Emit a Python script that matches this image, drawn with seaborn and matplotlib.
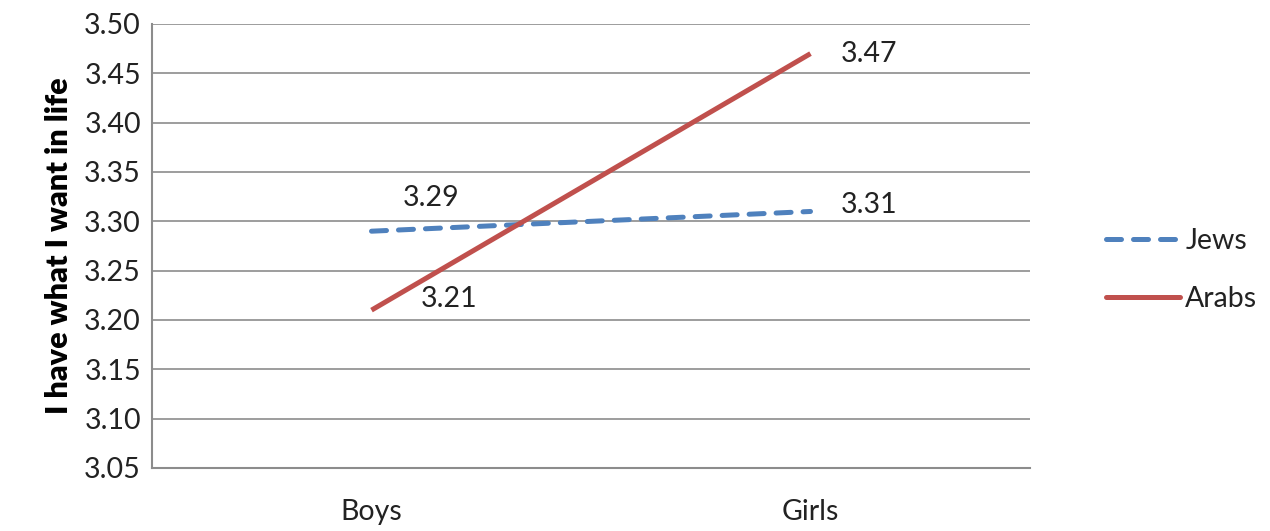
import matplotlib
matplotlib.use("Agg")
import matplotlib.pyplot as plt
import seaborn as sns
import pandas as pd
from matplotlib.lines import Line2D

# Mean agreement with "I have what I want in life" by gender and group
categories = ["Boys", "Girls"]
jews = [3.29, 3.31]
arabs = [3.21, 3.47]
groups = ["Jews", "Arabs"]
y_ticks = [3.05, 3.10, 3.15, 3.20, 3.25, 3.30, 3.35, 3.40, 3.45, 3.50]

df = pd.DataFrame({
    "gender": categories * 2,
    "score": jews + arabs,
    "group": [groups[0]] * 2 + [groups[1]] * 2,
})

sns.set_theme(style="white")
plt.rcParams["font.family"] = ["Lato", "DejaVu Sans"]

fig = plt.figure(figsize=(12.7, 5.31), dpi=100)
ax = fig.add_axes([152 / 1270, 63 / 531, 878 / 1270, 444 / 531])

palette = {"Jews": "#4F81BD", "Arabs": "#C0504D"}
dashes = {"Jews": (3.0, 2.4), "Arabs": ""}
sns.lineplot(data=df, x="gender", y="score", hue="group", style="group",
             palette=palette, dashes=dashes, linewidth=3.6, ax=ax,
             legend=False, sort=False)
for line in ax.lines:
    line.set_dash_capstyle("round")
    line.set_solid_capstyle("butt")

ax.set_xlim(-0.5, 1.5)
ax.set_ylim(3.05, 3.50)
ax.set_yticks(y_ticks)
ax.set_yticklabels([f"{t:.2f}" for t in y_ticks])
ax.tick_params(axis="both", labelsize=20.5, colors="#222222", length=0)
ax.tick_params(axis="y", pad=8)
ax.tick_params(axis="x", pad=22)
ax.yaxis.grid(True, color="#8c8c8c", linewidth=1.2)
ax.set_axisbelow(True)
ax.set_xlabel("")
ax.set_ylabel("I have what I want in life", fontsize=22, fontweight="heavy",
              labelpad=8, color="black")

for side in ["top", "right"]:
    ax.spines[side].set_visible(False)
for side in ["left", "bottom"]:
    ax.spines[side].set_color("#8c8c8c")
    ax.spines[side].set_linewidth(1.5)

# Value labels next to each point (offsets in points)
offsets = {
    ("Jews", 0): (43, 24), ("Jews", 1): (42, 5),
    ("Arabs", 0): (56, 8), ("Arabs", 1): (42, 0),
}
for g, vals in zip(groups, [jews, arabs]):
    for i, v in enumerate(vals):
        ax.annotate(f"{v:.2f}", xy=(i, v), xytext=offsets[(g, i)],
                    textcoords="offset points", ha="center", va="center",
                    fontsize=20.5, color="#222222")

# Legend on the right of the plot
handles = [
    Line2D([], [], color=palette["Jews"], linewidth=3.6,
           dashes=dashes["Jews"], dash_capstyle="round"),
    Line2D([], [], color=palette["Arabs"], linewidth=3.6),
]
leg = fig.legend(handles, groups, loc="center left",
                 bbox_to_anchor=(1080 / 1270, 0.4915), frameon=False,
                 fontsize=20.5, handlelength=2.6, handletextpad=0.2,
                 labelspacing=1.15)
for t in leg.get_texts():
    t.set_color("#222222")

fig.savefig("out.png", dpi=100)
